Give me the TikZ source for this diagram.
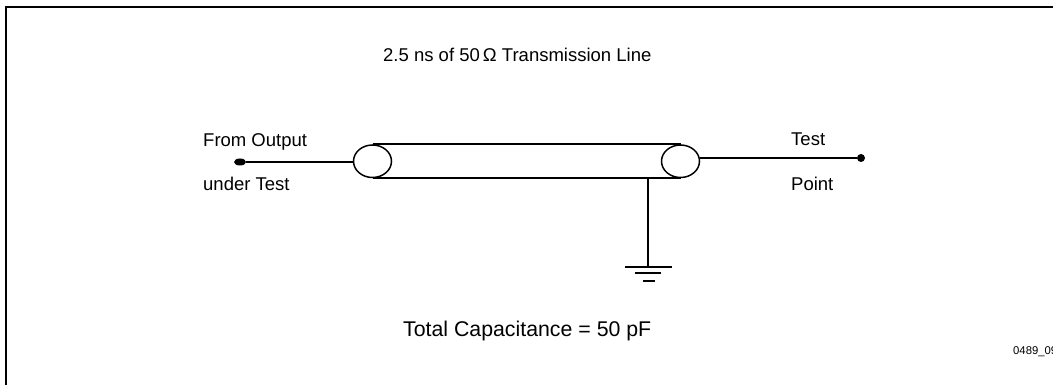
\documentclass[tikz,border=0pt]{standalone}
\usepackage{fontspec}
\setmainfont{Liberation Sans}
\usetikzlibrary{shapes.geometric}
\tikzstyle{lbl} = [inner sep=0pt, anchor=base west, font={\fontsize{18.5}{22}\selectfont}]
\tikzstyle{wire} = [draw=black, line width=1.5pt]
\tikzstyle{coax} = [draw=black, line width=1.5pt, ellipse, minimum width=38pt, minimum height=32.5pt, inner sep=0pt]
\tikzstyle{pin} = [fill=black, ellipse, inner sep=0pt]

\begin{document}
\begin{tikzpicture}[x=1pt,y=-1pt]
  \useasboundingbox (0,0) rectangle (1053,385);
  \clip (0,0) rectangle (1053,385);
  \coordinate (frameb) at (6,385);
  \coordinate (framec) at (6,7);
  \coordinate (framer) at (1053,7);
  \draw[line width=2pt](frameb)--(framec)--(framer);
  \node[lbl](title) at (383,61.5){2.5 ns of 50\,Ω Transmission Line};
  \node[lbl](from) at (203,146.5){From Output};
  \node[lbl](under) at (203,190){under Test};
  \node[lbl](test) at (791,146){Test};
  \node[lbl](point) at (791,190){Point};
  \node[lbl,font={\fontsize{21.3}{25}\selectfont}](total) at (403,336){Total Capacitance = 50 pF};
  \node[lbl,font={\fontsize{11.3}{13}\selectfont}](tag) at (1013,354){0489\_09};
  \node[pin,minimum width=12pt,minimum height=7pt](in) at (240,162){};
  \node[pin,minimum width=8pt,minimum height=8pt](out) at (861,158){};
  \node[coax](lcoax) at (372.5,161.25){};
  \node[coax](rcoax) at (680.5,161.25){};
  \coordinate (tap) at (648,177);
  \coordinate (gnd) at (648,267);
  \coordinate (g1l) at (625,267);
  \coordinate (g1r) at (672,267);
  \coordinate (g2l) at (635,273);
  \coordinate (g2r) at (661,273);
  \coordinate (g3l) at (643,281);
  \coordinate (g3r) at (655,281);
  \draw[wire](in)--(lcoax.west |- in);
  \draw[wire](rcoax.east |- out)--(out);
  \draw[wire](lcoax.north)--(rcoax.north);
  \draw[wire](lcoax.south)--(rcoax.south);
  \draw[wire](tap)--(gnd);
  \draw[wire](g1l)--(g1r);
  \draw[wire](g2l)--(g2r);
  \draw[wire](g3l)--(g3r);
\end{tikzpicture}
\end{document}
